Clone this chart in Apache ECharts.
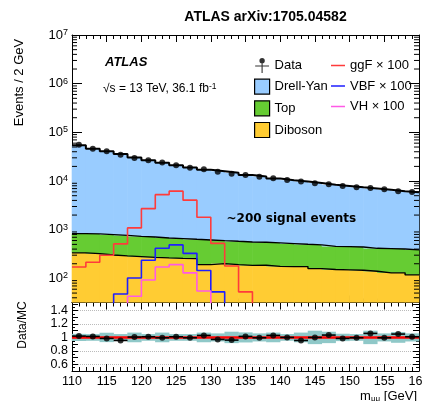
<!DOCTYPE html>
<html><head><meta charset="utf-8">
<script src="https://cdn.jsdelivr.net/npm/echarts@6/dist/echarts.min.js"></script>
<style>html,body{margin:0;padding:0;background:#fff}#c{width:422px;height:401px}</style>
</head><body><div id="c"></div>
<script>
// ---------- data ----------
const binLow = [110,112,114,116,118,120,122,124,126,128,130,132,134,136,138,140,142,144,146,148,150,152,154,156,158];
const BIN_W = 2;
const dataCounts = [55800,46200,40700,34800,29800,26600,23900,21000,18800,17400,15600,14200,13300,12300,11400,10500,9730,8970,8560,7930,7430,7220,6760,6150,5980];
const drellYan = [53500,45000,40000,35000,29800,26000,23200,20400,18300,16500,15300,14200,12800,11800,10700,9900,9300,8600,7900,7500,7000,6600,6200,5800,5500];
const topBkg = [498,497,492,477,451,440,414,399,381,425,396,386,376,366,359,344,327,329,304,300,296,275,279,273,267];
const diboson = [334,323,303,290,280,271,264,258,255,192,201,192,185,186,177,175,175,159,152,150,147,140,130,130,118];
const ggfLow = [110,112,114,116,118,120,122,124,126,128,130,132,134];
const ggfX100 = [172,214,298,511,1090,2710,5260,6200,4050,1800,525,180,53];
const vbfLow = [116,118,120,122,124,126,128,130];
const vbfX100 = [48,102,236,415,488,327,145,53];
const vhLow = [118,120,122,124,126,128];
const vhX100 = [43,93,172,192,130,55];
const ratio = [1.02,1.015,0.985,0.955,1.005,1.01,0.995,1.01,0.995,1.03,0.97,0.96,1.015,0.995,1.03,1.0,0.955,1.0,1.035,0.985,0.995,1.06,0.995,1.05,1.01];
const bandHalf = [0.053,0.05,0.07,0.05,0.072,0.05,0.072,0.05,0.05,0.072,0.06,0.085,0.075,0.06,0.072,0.05,0.072,0.10,0.085,0.055,0.05,0.10,0.06,0.08,0.06];
const ratioGridLines = [0.6,0.8,1.0,1.2,1.4];
const ratioTickLabels = ['0.6','0.8','1','1.2','1.4'];

// ---------- styles ----------
const Y_MIN = 32, Y_MAX = 1e7;
const FONT = "'Liberation Sans', Arial, sans-serif";
const TFONT = "'Liberation Sans Narrow', 'Liberation Sans', Arial, sans-serif";
const C_DY = '#99ccff', C_TOP = '#66cc33', C_DB = '#ffcc33';
const C_GGF = '#ff3b3b', C_VBF = '#1f1fff', C_VH = '#ff5ae6';

// stacks (needed by the library for drawing)
const stDB = diboson.slice();
const stTop = diboson.map((v,i)=>v+topBkg[i]);
const stAll = stTop.map((v,i)=>v+drellYan[i]);

function stepData(lows, vals, closeL, closeR){
  const pts = [];
  if (closeL) pts.push([lows[0], Y_MIN*0.3]);
  lows.forEach((x,i)=>pts.push([x, vals[i]]));
  const xe = lows[lows.length-1]+BIN_W;
  pts.push([xe, vals[vals.length-1]]);
  if (closeR) pts.push([xe, Y_MIN*0.3]);
  return pts;
}
function fill(name, lower, upper, color){
  return {
    type:'custom', name, xAxisIndex:0, yAxisIndex:0, silent:true, z:1,
    itemStyle:{color},
    data: binLow.map((x,i)=>[x, x+BIN_W, lower ? lower[i] : Y_MIN, upper[i]]),
    encode:{x:[0,1], y:[3]},
    renderItem:(p,api)=>{
      const cs = p.coordSys;
      const a = api.coord([api.value(0), api.value(3)]);
      const b = api.coord([api.value(1), api.value(2)]);
      const yTop = Math.max(cs.y, a[1]);
      const yBot = Math.min(cs.y+cs.height, b[1]);
      return {type:'rect', shape:{x:a[0]-0.3, y:yTop, width:b[0]-a[0]+0.6, height:yBot-yTop}, style:{fill:color}};
    }
  };
}
function outline(vals, w){
  return {type:'line', step:'end', xAxisIndex:0, yAxisIndex:0, symbol:'none', silent:true, z:3,
    data: stepData(binLow, vals, false, false), lineStyle:{color:'#000', width:w}};
}
function signal(name, lows, vals, color, closeL){
  return {type:'line', name, step:'end', xAxisIndex:0, yAxisIndex:0, symbol:'none', silent:true, z:4,
    itemStyle:{color}, data: stepData(lows, vals, closeL, true), lineStyle:{color, width:1.6}};
}

// minor ticks of the log axis (2..9 x 10^k)
const logMinor = [];
for (let k=1;k<7;k++) for (let m=2;m<10;m++){ const v=m*Math.pow(10,k); if (v>Y_MIN && v<Y_MAX) logMinor.push([110, v]); }

const mainLabel = v => {
  const e = Math.round(Math.log10(v));
  if (Math.abs(Math.pow(10,e)-v) > 1e-6*v) return '';
  return '{b|10}{s|' + e + '}';
};

const axisBase = {axisLine:{show:true, onZero:false, lineStyle:{color:'#000', width:1}}, splitLine:{show:false}};

const option = {
  animation:false,
  backgroundColor:'#fff',
  grid:[
    {left:72, right:3, top:35, height:267.5, outerBoundsMode:'none', containLabel:false},
    {left:72, right:3, top:302.5, height:68.5, outerBoundsMode:'none', containLabel:false}
  ],
  xAxis:[
    Object.assign({type:'value', gridIndex:0, min:110, max:160, interval:5, position:'bottom',
      axisLabel:{show:false}, axisTick:{inside:true, length:7, lineStyle:{color:'#000'}},
      minorTick:{show:true, splitNumber:5, length:4, lineStyle:{color:'#000'}}}, axisBase),
    Object.assign({type:'value', gridIndex:0, min:110, max:160, interval:5, position:'top',
      axisLabel:{show:false}, axisTick:{inside:true, length:7, lineStyle:{color:'#000'}},
      minorTick:{show:true, splitNumber:5, length:4, lineStyle:{color:'#000'}}}, axisBase),
    Object.assign({type:'value', gridIndex:1, min:110, max:160, interval:5, position:'bottom',
      axisLabel:{show:true, color:'#000', fontSize:12.5, fontFamily:TFONT, margin:4, showMaxLabel:true},
      axisTick:{inside:true, length:7, lineStyle:{color:'#000'}},
      minorTick:{show:true, splitNumber:5, length:4, lineStyle:{color:'#000'}}}, axisBase),
    Object.assign({type:'value', gridIndex:1, min:110, max:160, interval:5, position:'top',
      axisLabel:{show:false}, axisTick:{inside:true, length:7, lineStyle:{color:'#000'}},
      minorTick:{show:true, splitNumber:5, length:4, lineStyle:{color:'#000'}}}, axisBase)
  ],
  yAxis:[
    Object.assign({type:'log', logBase:10, gridIndex:0, min:Y_MIN, max:Y_MAX, position:'left',
      axisTick:{inside:true, length:10, lineStyle:{color:'#000'}},
      axisLabel:{formatter:mainLabel, margin:4, showMinLabel:false,
        rich:{b:{fontSize:13, fontFamily:TFONT, color:'#000', lineHeight:14},
              s:{fontSize:9, fontFamily:TFONT, color:'#000', lineHeight:8, verticalAlign:'top'}}}}, axisBase),
    Object.assign({type:'log', logBase:10, gridIndex:0, min:Y_MIN, max:Y_MAX, position:'right',
      axisTick:{inside:true, length:10, lineStyle:{color:'#000'}}, axisLabel:{show:false}}, axisBase),
    Object.assign({type:'value', gridIndex:1, min:0.5, max:1.52, interval:0.1, position:'left',
      axisTick:{inside:true, length:6, lineStyle:{color:'#000'}},
      minorTick:{show:true, splitNumber:2, length:3, lineStyle:{color:'#000'}},
      axisLabel:{color:'#000', fontSize:12.5, fontFamily:TFONT, margin:4, showMaxLabel:false,
        formatter:v=>{const i=ratioGridLines.findIndex(g=>Math.abs(g-v)<1e-6); return i>=0?ratioTickLabels[i]:'';}}}, axisBase),
    Object.assign({type:'value', gridIndex:1, min:0.5, max:1.52, interval:0.1, position:'right',
      axisTick:{inside:true, length:6, lineStyle:{color:'#000'}},
      minorTick:{show:true, splitNumber:2, length:3, lineStyle:{color:'#000'}},
      axisLabel:{show:false}}, axisBase)
  ],
  legend:[
    {orient:'vertical', left:249, top:53, itemWidth:15, itemHeight:15, itemGap:5.5, selectedMode:false,
     textStyle:{fontSize:13, fontFamily:FONT, color:'#000', lineHeight:15},
     data:[
      {name:'Data', icon:'path://M0,6.9h15v1.2h-15z M6.9,0h1.2v15h-1.2z M7.5,4.6a2.9,2.9 0 1,1 0.001,0z', itemStyle:{color:'#000', borderWidth:0}},
      {name:'Drell-Yan', icon:'rect', itemStyle:{color:C_DY, borderColor:'#000', borderWidth:1.2}},
      {name:'Top', icon:'rect', itemStyle:{color:C_TOP, borderColor:'#000', borderWidth:1.2}},
      {name:'Diboson', icon:'rect', itemStyle:{color:C_DB, borderColor:'#000', borderWidth:1.2}}
     ]},
    {orient:'vertical', left:326, top:53, itemWidth:14, itemHeight:15, itemGap:5.5, selectedMode:false,
     textStyle:{fontSize:13, fontFamily:FONT, color:'#000', lineHeight:15},
     data:[
      {name:'ggF × 100', icon:'path://M0,0h0.01v0.01h-0.01z M0,6.8h14v1.5h-14z M13.99,15h0.01v0.01h-0.01z', itemStyle:{color:C_GGF}},
      {name:'VBF × 100', icon:'path://M0,0h0.01v0.01h-0.01z M0,6.8h14v1.5h-14z M13.99,15h0.01v0.01h-0.01z', itemStyle:{color:C_VBF}},
      {name:'VH × 100', icon:'path://M0,0h0.01v0.01h-0.01z M0,6.8h14v1.5h-14z M13.99,15h0.01v0.01h-0.01z', itemStyle:{color:C_VH}}
     ]}
  ],
  graphic:[
    {type:'text', x:265.5, y:17, style:{text:'ATLAS arXiv:1705.04582', fontSize:14, fontWeight:'bold', fontFamily:FONT, fill:'#000', align:'center', verticalAlign:'middle'}},
    {type:'text', x:105, y:62.5, style:{text:'ATLAS', fontSize:13, fontWeight:'bold', fontStyle:'italic', fontFamily:FONT, fill:'#000', align:'left', verticalAlign:'middle'}},
    {type:'text', x:103, y:88.5, style:{text:'√s = 13 TeV, 36.1 fb{sup|-1}', fontSize:12, fontFamily:FONT, fill:'#000', align:'left', verticalAlign:'middle',
      rich:{sup:{fontSize:8.5, fontFamily:FONT, fill:'#000', verticalAlign:'top', lineHeight:8}}}},
    {type:'text', x:226.5, y:219, z:20, style:{text:'~200 signal events', fontSize:12, fontWeight:'bold', fontFamily:"'DejaVu Sans', sans-serif", fill:'#000', align:'left', verticalAlign:'middle'}},
    {type:'text', x:19, y:82.5, rotation:Math.PI/2, style:{text:'Events / 2 GeV', fontSize:13, fontFamily:FONT, fill:'#000', align:'center', verticalAlign:'middle'}},
    {type:'text', x:23, y:325, rotation:Math.PI/2, style:{text:'Data/MC', fontSize:12, fontFamily:FONT, fill:'#000', align:'center', verticalAlign:'middle'}},
    {type:'text', x:417, y:396, style:{text:'m{sub|μμ} [GeV]', fontSize:13, fontFamily:FONT, fill:'#000', align:'right', verticalAlign:'middle',
      rich:{sub:{fontSize:8, fontFamily:FONT, fill:'#000', verticalAlign:'bottom', lineHeight:6}}}}
  ],
  series:[
    fill('Diboson', null, stDB, C_DB),
    fill('Top', stDB, stTop, C_TOP),
    fill('Drell-Yan', stTop, stAll, C_DY),
    outline(stDB, 1.4),
    outline(stTop, 1.4),
    outline(stAll, 2),
    signal('ggF × 100', ggfLow, ggfX100, C_GGF, false),
    signal('VBF × 100', vbfLow, vbfX100, C_VBF, true),
    signal('VH × 100', vhLow, vhX100, C_VH, true),
    {type:'custom', xAxisIndex:0, yAxisIndex:0, silent:true, z:6, data:logMinor, encode:{x:0, y:1},
     renderItem:(p,api)=>{
       const cs=p.coordSys; const y=api.coord([110, api.value(1)])[1];
       return {type:'group', children:[
         {type:'line', shape:{x1:cs.x, y1:y, x2:cs.x+5, y2:y}, style:{stroke:'#000', lineWidth:1}},
         {type:'line', shape:{x1:cs.x+cs.width-5, y1:y, x2:cs.x+cs.width, y2:y}, style:{stroke:'#000', lineWidth:1}}]};
     }},
    {type:'scatter', name:'Data', xAxisIndex:0, yAxisIndex:0, symbol:'circle', symbolSize:6, z:8, silent:true,
     itemStyle:{color:'#000'}, data: binLow.map((x,i)=>[x+BIN_W/2, dataCounts[i]])},
    // ratio panel
    {type:'custom', xAxisIndex:2, yAxisIndex:2, silent:true, z:1,
     data: binLow.map((x,i)=>[x, x+BIN_W, 1-bandHalf[i], 1+bandHalf[i]]), encode:{x:[0,1], y:[2,3]},
     renderItem:(p,api)=>{
       const a=api.coord([api.value(0), api.value(3)]), b=api.coord([api.value(1), api.value(2)]);
       return {type:'rect', shape:{x:a[0]-0.2, y:a[1], width:b[0]-a[0]+0.4, height:b[1]-a[1]}, style:{fill:'#8fc8c8'}};
     }},
    {type:'line', xAxisIndex:2, yAxisIndex:2, symbol:'none', silent:true, z:3,
     data:[[110,1],[160,1]], lineStyle:{color:'#ff0000', width:2.5},
     markLine:{silent:true, symbol:'none', label:{show:false}, z:0,
       lineStyle:{color:'#bbbbbb', type:'dotted', width:1},
       data: ratioGridLines.filter(v=>v!==1).map(v=>({yAxis:v}))}},
    {type:'custom', xAxisIndex:2, yAxisIndex:2, silent:true, z:5,
     data: binLow.map((x,i)=>[x, x+BIN_W, ratio[i]]), encode:{x:[0,1], y:2},
     renderItem:(p,api)=>{
       const a=api.coord([api.value(0), api.value(2)]), b=api.coord([api.value(1), api.value(2)]);
       return {type:'line', shape:{x1:a[0], y1:a[1], x2:b[0], y2:b[1]}, style:{stroke:'#000', lineWidth:1.6}};
     }},
    {type:'scatter', xAxisIndex:2, yAxisIndex:2, symbol:'circle', symbolSize:6, z:6, silent:true,
     itemStyle:{color:'#000'}, data: binLow.map((x,i)=>[x+BIN_W/2, ratio[i]])}
  ]
};
echarts.init(document.getElementById('c'), null, {renderer:'canvas'}).setOption(option);
</script>
</body></html>
